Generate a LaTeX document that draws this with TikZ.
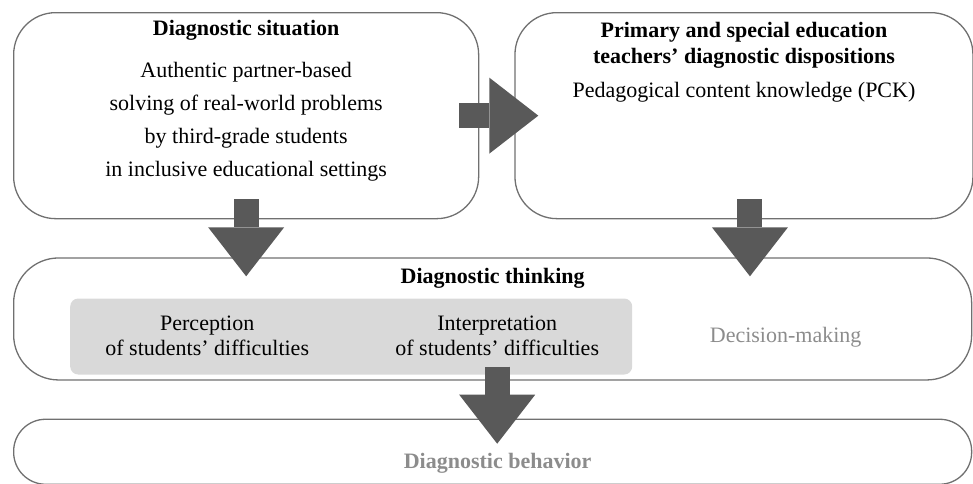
\documentclass[tikz,border=0pt]{standalone}
\usepackage{fontspec}
\setmainfont{Liberation Serif}
\usetikzlibrary{positioning,arrows.meta}
\definecolor{panelBorder}{HTML}{707070}
\definecolor{arrowFill}{HTML}{595959}
\definecolor{phaseFill}{HTML}{D9D9D9}
\definecolor{fadedText}{HTML}{8C8C8C}

\begin{document}
\begin{tikzpicture}[
    x=1pt, y=1pt,
    panel/.style={
        rectangle, draw=panelBorder,
        line width=1.3pt, inner sep=0pt
    },
    phase/.style={
        rectangle, fill=phaseFill,
        rounded corners=8pt, inner sep=0pt
    },
    heading/.style={font=\fontsize{22}{26}\selectfont\bfseries, align=center, inner sep=0pt},
    body/.style={font=\fontsize{22}{33}\selectfont, align=center, inner sep=0pt},
    phasetext/.style={font=\fontsize{22}{25}\selectfont, align=center, inner sep=0pt},
    fatarrow/.style={-{Triangle[length=49pt, width=76pt, line width=0pt]}, line width=25pt, draw=arrowFill}
]
  \useasboundingbox (0,0) rectangle (973,-483);

  % Panels
  \node[panel, minimum width=465pt, minimum height=206pt, rounded corners=42pt, anchor=north west] (sit) at (13,-12) {};

  \node[panel, minimum width=458pt, minimum height=206pt, rounded corners=42pt, right=35pt of sit] (dispo) {};

  \node[panel, minimum width=958pt, minimum height=122pt, rounded corners=45pt, anchor=north west] (think) at ([yshift=-38pt]sit.south west) {};

  \node[panel, minimum width=958pt, minimum height=65pt, rounded corners=32pt, anchor=north west] (behav) at ([yshift=-38pt]think.south west) {};

  \node[phase, minimum width=562pt, minimum height=76pt, anchor=north west] (steps) at ([xshift=57pt, yshift=-41pt]think.north west) {};

  % Texts
  \node[heading] (sitTitle) at ([yshift=-18pt]sit.north) {Diagnostic situation};
  \node[body] (sitText) at ([yshift=-110pt]sit.north) {Authentic partner-based\\solving of real-world problems\\by third-grade students\\in inclusive educational settings};

  \node[heading] (dispoTitle) at ([yshift=-33pt]dispo.north) {Primary and special education\\teachers' diagnostic dispositions};
  \node[body] (dispoText) at ([yshift=-80pt]dispo.north) {Pedagogical content knowledge (PCK)};

  \node[heading] (thinkTitle) at ([yshift=-21pt]think.north) {Diagnostic thinking};
  \node[phasetext] (percep) at ([xshift=-144pt, yshift=1pt]steps.center) {Perception\\of students' difficulties};
  \node[phasetext] (interp) at ([xshift=146pt, yshift=1pt]steps.center) {Interpretation\\of students' difficulties};
  \node[phasetext, text=fadedText] (decide) at ([xshift=293pt, yshift=-18pt]think.center) {Decision-making};

  \node[heading, text=fadedText] (behavTitle) at ([xshift=5pt, yshift=-12pt]behav.center) {Diagnostic behavior};

  % Block arrows
  \draw[fatarrow] ([xshift=-20pt]sit.east) -- ([xshift=24pt]dispo.west);
  \draw[fatarrow] ([yshift=20pt]sit.south) -- ([yshift=-57pt]sit.south);
  \draw[fatarrow] ([xshift=6pt, yshift=20pt]dispo.south) -- ([xshift=6pt, yshift=-57pt]dispo.south);
  \draw[fatarrow] ([xshift=146pt, yshift=8pt]steps.south) -- ([xshift=146pt, yshift=-69pt]steps.south);

\end{tikzpicture}
\end{document}
